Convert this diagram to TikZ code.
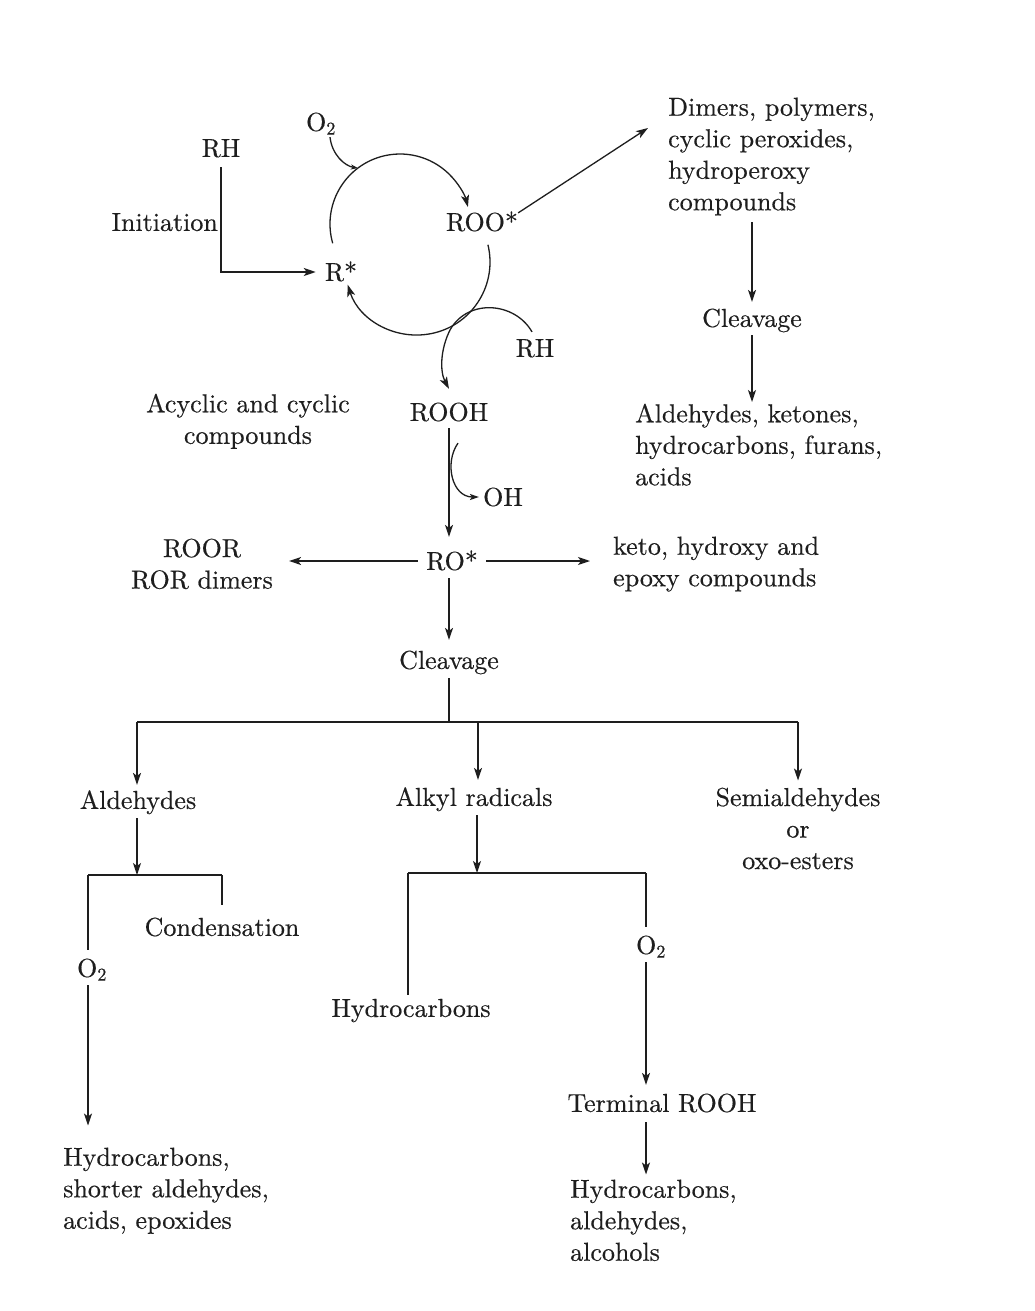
\documentclass[tikz,border=0pt]{standalone}
\usepackage{fontspec}
\setmainfont{lmroman10-regular.otf}[FakeBold=0.4]
\usetikzlibrary{arrows.meta,calc}
\definecolor{ink}{RGB}{30,30,30}
\tikzset{
 txt/.style={inner sep=0pt, font=\fontsize{26}{31.5}\selectfont, text=ink},
 lbl/.style={txt, text height=17.8pt, text depth=0pt},
 blkl/.style={txt, align=left, anchor=north west},
 blkc/.style={txt, align=center, anchor=north},
 ln/.style={draw=ink, line width=1.3pt},
 arr/.style={ln, -{Stealth[length=12pt,width=8pt,inset=3pt]}},
}
\begin{document}
\begin{tikzpicture}[x=1pt,y=-1pt]
\fill[white] (0,0) rectangle (1034,1311);
\useasboundingbox (0,0) rectangle (1034,1311);

% nodes
\node[lbl] (rh1) at (221,148) {RH};
\node[lbl, anchor=east] (init) at (218,222) {Initiation};
\node[lbl] (r) at (341,272) {R*};
\node[lbl] (o2a) at (321,122) {O\textsubscript{2}};
\node[lbl] (roo) at (482,222) {ROO*};
\node[lbl] (rh2) at (535,348) {RH};
\node[blkl] (dim) at (668,97.5) {Dimers, polymers,\\cyclic peroxides,\\hydroperoxy\\compounds};
\node[lbl] (clv1) at (752,318) {Cleavage};
\node[blkl] (ald1) at (635,403.5) {Aldehydes, ketones,\\hydrocarbons, furans,\\acids};
\node[blkc] (acy) at (248,393.5) {Acyclic and cyclic\\compounds};
\node[lbl] (rooh) at (449,412) {ROOH};
\node[lbl] (oh) at (503,497) {OH};
\node[lbl] (ro) at (452,561) {RO*};
\node[blkc] (roor) at (202,538.5) {ROOR\\ROR dimers};
\node[blkl] (keto) at (613,536.5) {keto, hydroxy and\\epoxy compounds};
\node[lbl] (clv2) at (449,660) {Cleavage};
\node[lbl] (ald) at (138,800) {Aldehydes};
\node[lbl] (alk) at (474,797) {Alkyl radicals};
\node[blkc] (semi) at (798,787.5) {Semialdehydes\\or\\oxo-esters};
\node[lbl] (cond) at (222,927) {Condensation};
\node[lbl] (o2b) at (92,968) {O\textsubscript{2}};
\node[blkl] (hyd1) at (63,1147.5) {Hydrocarbons,\\shorter aldehydes,\\acids, epoxides};
\node[lbl] (hyd2) at (411,1008) {Hydrocarbons};
\node[lbl] (o2c) at (651,945) {O\textsubscript{2}};
\node[lbl] (term) at (662,1103) {Terminal ROOH};
\node[blkl] (hyd3) at (570,1179.5) {Hydrocarbons,\\aldehydes,\\alcohols};

% coordinates
\coordinate (cu) at (400,224);
\coordinate (cl) at (417,262);
\coordinate (jo) at ($(cu)+(-127:70)$);
\coordinate (dimin) at (648,128);
\coordinate (jc) at (449,722);
\coordinate (jl) at (137,722);
\coordinate (jm) at (478,722);
\coordinate (jr) at (798,722);
\coordinate (ja) at (137,875);
\coordinate (jal) at (88,875);
\coordinate (jar) at (222,875);
\coordinate (jk) at (477,873);
\coordinate (jkl) at (408,873);
\coordinate (jkr) at (646,873);

% cycle
\draw[arr, shorten <=10pt, shorten >=9pt] (rh1.south) |- (r.west);
\draw[arr] ($(cu)+(-196:70)$) arc[start angle=-196, end angle=-14, radius=70];
\draw[arr] ($(cl)+(-13.7:73)$) arc[start angle=-13.7, end angle=162, radius=73];
\draw[ln, -{Stealth[length=7pt,width=5pt,inset=2pt]}] ($(o2a.south)+(9,6)$) .. controls (332,155) and (345,166) .. (jo);
\draw[arr] ($(rh2.north)+(-3,-7)$) .. controls (515,302) and (468,298) .. (450,330)
  .. controls (440,350) and (440,372) .. ($(rooh.north)+(0,-14)$);
\draw[arr] (roo.north east) -- (dimin);
\draw[arr, shorten <=7pt, shorten >=7pt] (dim.south -| clv1.north) -- (clv1.north);
\draw[arr, shorten <=8pt, shorten >=1.5pt] (clv1.south) -- (clv1.south |- ald1.north);

% ROOH
\draw[arr, shorten <=7pt, shorten >=15pt] (rooh.south) -- (rooh.south |- ro.north);
\draw[ln, -{Stealth[length=9pt,width=6pt,inset=2pt]}, shorten >=4pt] ($(rooh.south)+(9,22)$) .. controls (444,463) and (452,497) .. (oh.west);
\draw[arr, shorten <=8pt, shorten >=16pt] (ro.west) -- (ro.west -| roor.east);
\draw[arr, shorten <=8pt, shorten >=23pt] (ro.east) -- (ro.east -| keto.west);
\draw[arr, shorten <=8pt, shorten >=11pt] (rooh.south |- ro.south) -- (clv2.north);
\draw[ln, shorten <=9pt] (clv2.south) -- (jc);

% branches
\draw[ln] (jl) -- (jr);
\draw[arr, shorten >=6pt] (jl) -- (jl |- ald.north);
\draw[arr, shorten >=8pt] (jm) -- (jm |- alk.north);
\draw[arr, shorten >=7pt] (jr) -- (semi.north);

\draw[arr, shorten <=9pt] (ald.south -| ja) -- (ja);
\draw[ln] (jal) -- (jar);
\draw[ln, shorten >=13pt] (jar) -- (cond.north);
\draw[ln, shorten >=9pt] (jal) -- (jal |- o2b.north);
\draw[arr, shorten <=8pt, shorten >=22pt] (jal |- o2b.south) -- (jal |- hyd1.north);

\draw[arr, shorten <=9pt] (alk.south -| jk) -- (jk);
\draw[ln] (jkl) -- (jkr);
\draw[ln, shorten >=4pt] (jkl) -- (jkl |- hyd2.north);
\draw[ln, shorten >=9pt] (jkr) -- (jkr |- o2c.north);
\draw[arr, shorten <=8pt, shorten >=9pt] (jkr |- o2c.south) -- (jkr |- term.north);
\draw[arr, shorten <=10pt, shorten >=5pt] (jkr |- term.south) -- (jkr |- hyd3.north);
\end{tikzpicture}
\end{document}
